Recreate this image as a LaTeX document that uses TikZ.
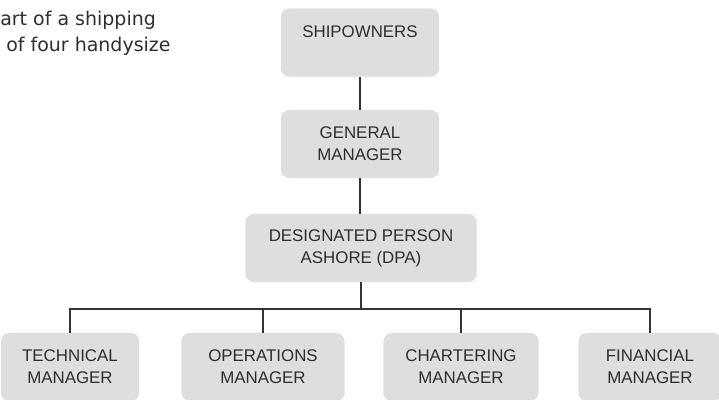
\documentclass[tikz,border=0pt]{standalone}
\usepackage{fontspec}
\setmainfont{Liberation Sans}
\newfontfamily\captionfont{DejaVu Sans}
\definecolor{boxgray}{HTML}{DEDEDE}
\definecolor{linegray}{HTML}{333333}
\definecolor{textgray}{HTML}{2E2E2E}

\begin{document}
\begin{tikzpicture}[x=0.025cm, y=-0.025cm,
  orgbox/.style={fill=boxgray, rounded corners=0.2cm, minimum height=1.7cm,
    inner sep=0pt, align=center, text=textgray,
    font=\fontsize{12}{15.6}\selectfont},
  link/.style={draw=linegray, line width=1.4pt},
  caption/.style={anchor=base west, inner sep=0pt, text=textgray,
    font=\captionfont\fontsize{13.5}{16}\selectfont}]
\useasboundingbox (0,0) rectangle (719,400);

% caption fragment
\node[caption] (capA) at (0,26) {art of a shipping};
\node[caption] (capB) at (6,52) {of four handysize};

% upper boxes
\node[orgbox, minimum width=3.95cm] (owners) at (360,42.5) {SHIPOWNERS\\~};
\node[orgbox, minimum width=3.95cm] (general) at (360,144) {GENERAL\\MANAGER};
\node[orgbox, minimum width=5.775cm] (dpa) at (361,248) {DESIGNATED PERSON\\ASHORE (DPA)};

% managers
\node[orgbox, minimum width=3.45cm] (tech) at (70,367) {TECHNICAL\\MANAGER};
\node[orgbox, minimum width=4.075cm] (ops) at (263,367) {OPERATIONS\\MANAGER};
\node[orgbox, minimum width=3.875cm] (chart) at (461,367) {CHARTERING\\MANAGER};
\node[orgbox, minimum width=3.575cm] (fin) at (650,367) {FINANCIAL\\MANAGER};

\coordinate (bus) at (0,309);
\draw[link] (owners.south) -- (owners.south |- general.north);
\draw[link] (general.south) -- (general.south |- dpa.north);
\draw[link] (dpa.south) -- (dpa.south |- bus);
\draw[link] (tech.north) |- (fin.north |- bus) -- (fin.north);
\draw[link] (ops.north) -- (ops.north |- bus);
\draw[link] (chart.north) -- (chart.north |- bus);
\end{tikzpicture}
\end{document}
